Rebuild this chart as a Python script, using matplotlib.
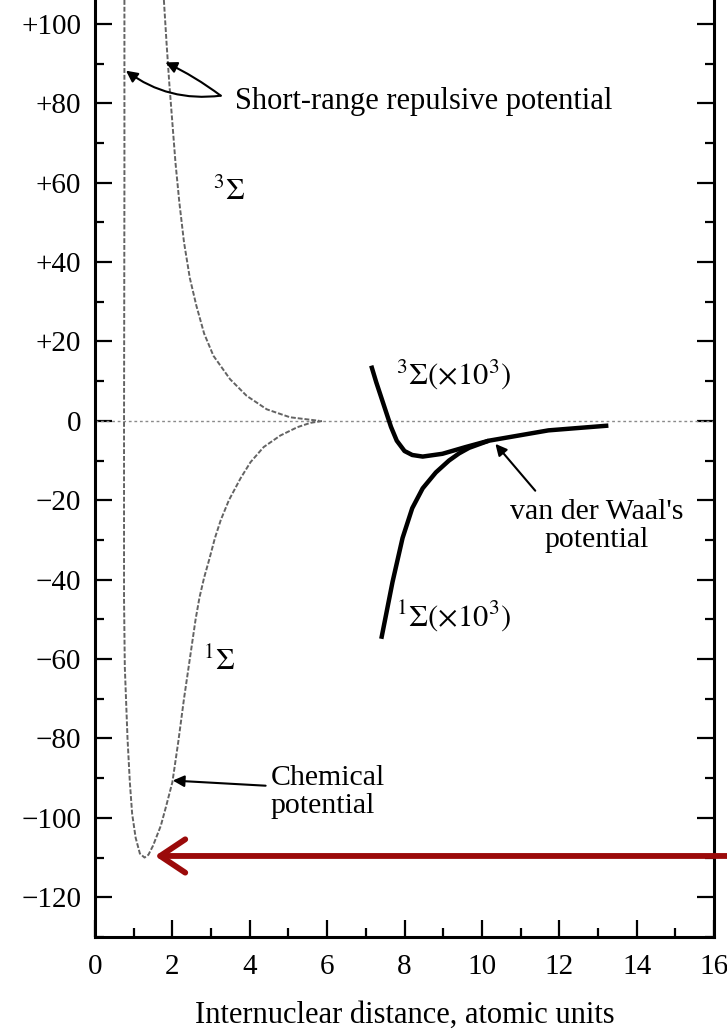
import matplotlib.pyplot as plt
from matplotlib.ticker import MultipleLocator, FuncFormatter

plt.rcParams['font.family'] = ['Liberation Serif', 'DejaVu Serif']
plt.rcParams['mathtext.fontset'] = 'stix'

# 1Sigma chemical potential
r_singlet = [0.76, 0.76, 0.75, 0.75, 0.77, 0.84, 0.90, 0.96, 1.05, 1.16, 1.28, 1.38, 1.50,
             1.70, 1.84, 2.00, 2.15, 2.30, 2.45, 2.60, 2.70, 2.82, 2.95, 3.10, 3.25, 3.46,
             3.76, 4.02, 4.36, 4.79, 5.23, 5.57, 5.90]
e_singlet = [106, 60, 0, -45, -62, -80, -91, -99, -105, -109, -110, -109.3, -107, -102,
             -97, -91, -81, -70, -60, -50, -44.5, -39.5, -35, -29.5, -25, -20, -14.5, -10.4,
             -6.6, -3.7, -1.6, -0.5, 0]

# 3Sigma repulsive curve
r_triplet = [1.78, 1.85, 1.92, 2.00, 2.08, 2.18, 2.30, 2.45, 2.62, 2.82, 3.06, 3.49, 3.92,
             4.44, 5.04, 5.80]
e_triplet = [106, 95, 85, 75, 65, 55, 45, 36, 29, 22, 16.4, 10.5, 6.3, 2.9, 0.9, 0]

# van der Waals region, scaled x10^3
r_vdw_triplet = [7.14, 7.27, 7.44, 7.65, 7.80, 8.00, 8.20, 8.47, 8.98, 9.58, 10.18, 10.95,
                 11.72, 12.49, 13.27]
e_vdw_triplet = [13.9, 9.7, 4.7, -1.5, -5.0, -7.6, -8.6, -9.0, -8.3, -6.6, -5.0, -3.7,
                 -2.4, -1.8, -1.2]
r_vdw_singlet = [7.40, 7.52, 7.69, 7.95, 8.20, 8.47, 8.81, 9.15, 9.41, 9.67, 10.18]
e_vdw_singlet = [-54.9, -49, -40.6, -29.5, -22, -17, -13, -10, -8.2, -6.8, -5.0]

fig = plt.figure(figsize=(7.27, 10.31), dpi=100)
ax = fig.add_axes([0.1307, 0.0912, 0.8514, 0.9088])

thin = dict(color='#636363', lw=1.4, ls=(0, (2.5, 1)))
ax.axhline(0, color='#8a8a8a', lw=1.0, ls=(0, (2, 2)))
ax.plot(r_singlet, e_singlet, **thin)
ax.plot(r_triplet, e_triplet, **thin)
ax.plot(r_vdw_triplet, e_vdw_triplet, color='k', lw=3.2, solid_capstyle='butt')
ax.plot(r_vdw_singlet, e_vdw_singlet, color='k', lw=3.2, solid_capstyle='butt')

ax.set_xlim(0, 16)
ax.set_ylim(-130, 106)

for s in ['left', 'right', 'bottom']:
    ax.spines[s].set_linewidth(2.2)
ax.spines['top'].set_visible(False)

ax.xaxis.set_major_locator(MultipleLocator(2))
ax.xaxis.set_minor_locator(MultipleLocator(1))
ax.yaxis.set_major_locator(MultipleLocator(20))
ax.yaxis.set_minor_locator(MultipleLocator(10))
ax.tick_params(which='both', direction='in', width=1.6, right=True, top=False)
ax.tick_params(which='major', length=12.5, labelsize=21)
ax.tick_params(axis='x', which='major', pad=12)
ax.tick_params(axis='y', which='major', pad=10)
ax.tick_params(which='minor', length=6.5)


def ylab(v, pos):
    if v > 0:
        return '+%d' % v
    if v < 0:
        return '\u2212%d' % -v
    return '0'


ax.yaxis.set_major_formatter(FuncFormatter(ylab))
ax.set_xlabel('Internuclear distance, atomic units', fontsize=22, labelpad=15)

arrow = dict(arrowstyle='-|>', color='k', lw=1.5, mutation_scale=17, shrinkA=0, shrinkB=0)
ax.text(3.62, 78.5, 'Short-range repulsive potential', fontsize=22, va='baseline')
ax.annotate('', xy=(0.8, 88.2), xytext=(3.25, 81.9),
            arrowprops=dict(arrow, connectionstyle='arc3,rad=-0.2'))
ax.annotate('', xy=(1.82, 90.3), xytext=(3.25, 81.9),
            arrowprops=dict(arrow, connectionstyle='arc3,rad=0.05'))

ax.text(4.54, -93.5, 'Chemical\npotential', fontsize=21.5, va='center', ha='left',
        linespacing=1.1)
ax.annotate('', xy=(2.01, -90.6), xytext=(4.41, -91.9), arrowprops=arrow)

ax.text(12.96, -26.5, "van der Waal's\npotential", fontsize=21.5, va='center', ha='center',
        linespacing=1.12)
ax.annotate('', xy=(10.35, -5.8), xytext=(11.38, -17.6), arrowprops=arrow)

ax.text(3.05, 57.8, r'$^{3}\Sigma$', fontsize=21.5, va='center')
ax.text(2.78, -60.5, r'$^{1}\Sigma$', fontsize=21.5, va='center')
ax.text(7.78, 11.8, r'$^{3}\Sigma(\times 10^{3})$', fontsize=22, va='center')
ax.text(7.78, -49, r'$^{1}\Sigma(\times 10^{3})$', fontsize=22, va='center')

# dark red pointer at the well minimum, drawn from the right edge of the figure
ax.annotate('', xy=(1.55, -109.6), xytext=(1.0, -109.6),
            textcoords=('figure fraction', 'data'), annotation_clip=False,
            arrowprops=dict(arrowstyle='->,head_length=0.45,head_width=0.3',
                            color='#9b0a0a', lw=4.2, mutation_scale=40,
                            shrinkA=0, shrinkB=0))

fig.savefig('out.png', dpi=100)
